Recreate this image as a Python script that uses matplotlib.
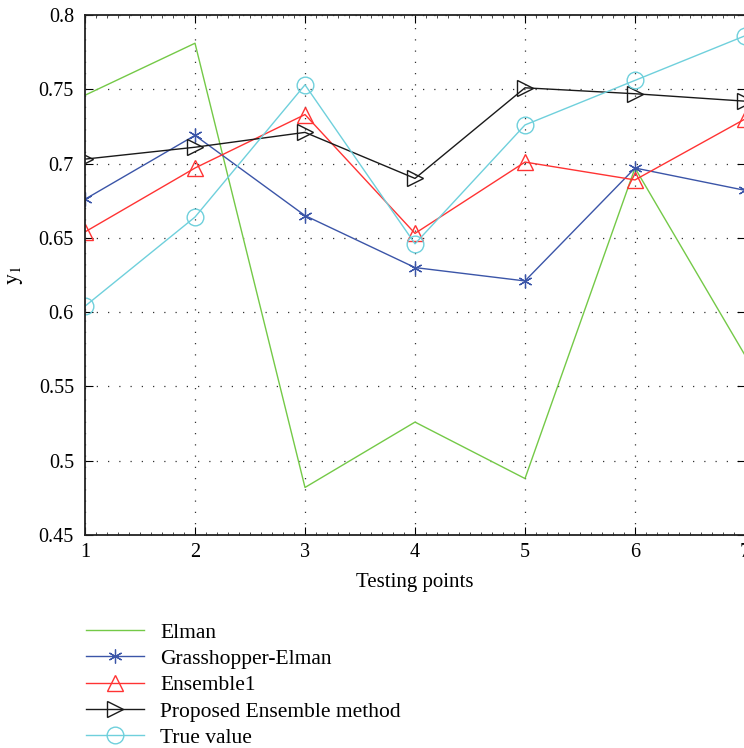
import numpy as np
import matplotlib
matplotlib.use('Agg')
import matplotlib.pyplot as plt
from matplotlib.ticker import MultipleLocator

# 测试点
points = [1, 2, 3, 4, 5, 6, 7]
elman = [0.746, 0.781, 0.482, 0.526, 0.488, 0.697, 0.571]
grasshopper = [0.676, 0.719, 0.665, 0.630, 0.621, 0.697, 0.682]
ensemble1 = [0.654, 0.697, 0.733, 0.653, 0.701, 0.689, 0.730]
proposed = [0.703, 0.711, 0.721, 0.690, 0.751, 0.747, 0.742]
true_value = [0.604, 0.664, 0.753, 0.646, 0.726, 0.756, 0.786]

labels = ['Elman', 'Grasshopper-Elman', 'Ensemble1', 'Proposed Ensemble method', 'True value']
y_ticks = [0.45, 0.5, 0.55, 0.6, 0.65, 0.7, 0.75, 0.8]
y_tick_labels = ['0.45', '0.5', '0.55', '0.6', '0.65', '0.7', '0.75', '0.8']

plt.rcParams['font.family'] = ['Liberation Serif', 'DejaVu Serif']
plt.rcParams['mathtext.fontset'] = 'stix'

fig = plt.figure(figsize=(7.44, 7.48), dpi=100)
# 右边框刚好在图片边缘之外
ax = fig.add_axes([85 / 744, 1 - 535 / 748, 660 / 744, 520 / 748])

ms = 12
ax.plot(points, elman, color='#74c947', lw=1.0, label=labels[0])
ax.plot(points, grasshopper, color='#3b55a8', lw=1.0, marker=(6, 2, 0), ms=10, mew=0.9,
        label=labels[1])
ax.plot(points, ensemble1, color='#ff3333', lw=1.0, marker='^', ms=ms, mew=1.0,
        markerfacecolor='none', label=labels[2])
ax.plot(points, proposed, color='#1a1a1a', lw=1.0, marker='>', ms=ms, mew=1.0,
        markerfacecolor='none', label=labels[3])
ax.plot(points, true_value, color='#6fd0dc', lw=1.0, marker='o', ms=ms, mew=1.0,
        markerfacecolor='none', label=labels[4])

ax.set_xlim(1, 7)
ax.set_ylim(0.45, 0.8)
ax.set_xticks(points)
ax.set_yticks(y_ticks)
ax.set_yticklabels(y_tick_labels)
ax.xaxis.set_minor_locator(MultipleLocator(0.1))
ax.tick_params(which='both', direction='in', top=True, right=True, labelsize=14.5)
ax.tick_params(which='major', length=6, width=0.8)
ax.tick_params(which='minor', length=2, width=0.5, left=False, right=False)
ax.tick_params(axis='x', pad=6)
ax.tick_params(axis='y', pad=8)
ax.grid(True, which='major', linestyle=(0, (1, 8)), color='#333333', lw=0.9)
for s in ax.spines.values():
    s.set_linewidth(1.3)
    s.set_color('#222222')

ax.set_xlabel('Testing points', fontsize=15, labelpad=8)
ax.set_ylabel('$\\mathrm{y}_1$', fontsize=16, labelpad=10)

ax.legend(loc='upper left', bbox_to_anchor=(-0.012, -0.152), frameon=False,
          fontsize=15.5, handlelength=2.7, handletextpad=0.75, labelspacing=0.29,
          borderaxespad=0)

fig.savefig('out.png', dpi=100)
